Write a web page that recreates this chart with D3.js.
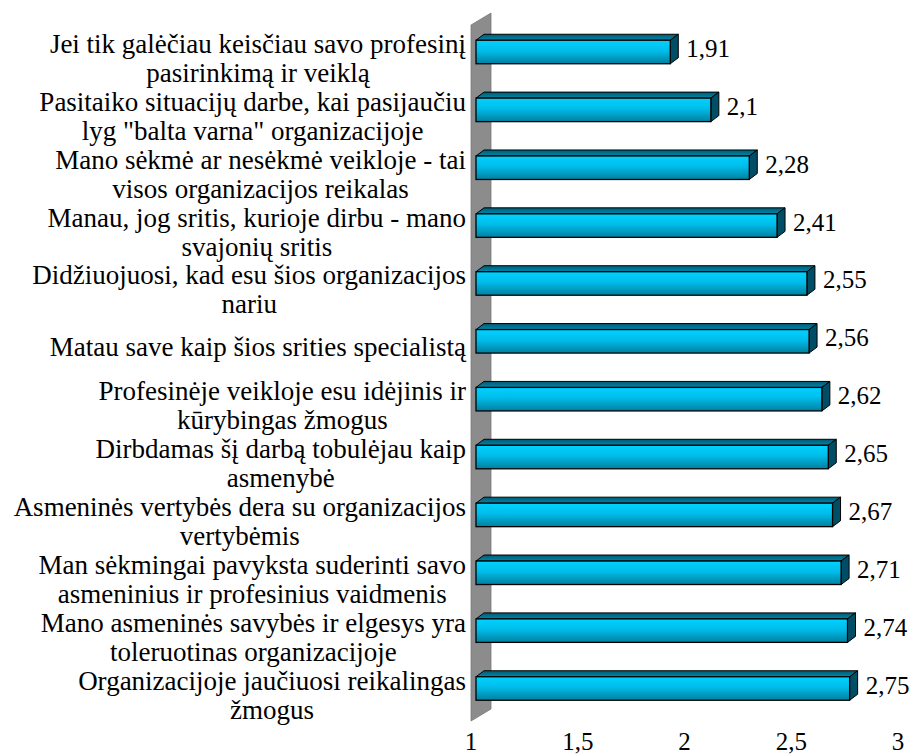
<!DOCTYPE html>
<html>
<head>
<meta charset="utf-8">
<script src="https://cdn.jsdelivr.net/npm/d3@7"></script>
<style>
  body { margin: 0; background: #fff; }
  svg text { font-family: 'Liberation Serif', 'Times New Roman', 'DejaVu Serif', serif; fill: #000; }
</style>
</head>
<body>
<div id="chart"></div>
<script>
// categories, top to bottom, split in lines as shown
var categories = [
    ["Jei tik galėčiau keisčiau savo profesinį", "pasirinkimą ir veiklą"],
    ["Pasitaiko situacijų darbe, kai pasijaučiu", "lyg \"balta varna\" organizacijoje"],
    ["Mano sėkmė ar nesėkmė veikloje - tai", "visos organizacijos reikalas"],
    ["Manau, jog sritis, kurioje dirbu - mano", "svajonių sritis"],
    ["Didžiuojuosi, kad esu šios organizacijos", "nariu"],
    ["Matau save kaip šios srities specialistą"],
    ["Profesinėje veikloje esu idėjinis ir", "kūrybingas žmogus"],
    ["Dirbdamas šį darbą tobulėjau kaip", "asmenybė"],
    ["Asmeninės vertybės dera su organizacijos", "vertybėmis"],
    ["Man sėkmingai pavyksta suderinti savo", "asmeninius ir profesinius vaidmenis"],
    ["Mano asmeninės savybės ir elgesys yra", "toleruotinas organizacijoje"],
    ["Organizacijoje jaučiuosi reikalingas", "žmogus"]
];
var values = [1.91, 2.1, 2.28, 2.41, 2.55, 2.56, 2.62, 2.65, 2.67, 2.71, 2.74, 2.75];
var valueLabels = ["1,91", "2,1", "2,28", "2,41", "2,55", "2,56", "2,62", "2,65", "2,67", "2,71", "2,74", "2,75"];
var tickValues = [1, 1.5, 2, 2.5, 3];
var tickLabels = ["1", "1,5", "2", "2,5", "3"];

var width = 917, height = 756;
var dx = 8, dy = -6, barH = 23.5;
var serif = "'Liberation Serif', 'Times New Roman', 'DejaVu Serif', serif";

var svg = d3.select("#chart")
    .append("svg")
        .attr("width", width)
        .attr("height", height);

var defs = svg.append("defs");
var grad = defs.append("linearGradient")
    .attr("id", "front")
    .attr("x1", 0).attr("y1", 0).attr("x2", 0).attr("y2", 1);
grad.append("stop").attr("offset", "0%").attr("stop-color", "#00d2ff");
grad.append("stop").attr("offset", "45%").attr("stop-color", "#00bcea");
grad.append("stop").attr("offset", "100%").attr("stop-color", "#00809f");

var gradTop = defs.append("linearGradient")
    .attr("id", "topface")
    .attr("x1", 0).attr("y1", 0).attr("x2", 0).attr("y2", 1);
gradTop.append("stop").attr("offset", "0%").attr("stop-color", "#005a74");
gradTop.append("stop").attr("offset", "100%").attr("stop-color", "#0088aa");

var x = d3.scaleLinear()
    .domain([1, 3])
    .range([476, 903]);

var y = d3.scalePoint()
    .domain(d3.range(categories.length))
    .range([52, 688.5]);

// side wall
svg.append("polygon")
    .attr("points", [[471, 25], [491, 13], [491, 709], [471, 721]].map(function(p) { return p.join(","); }).join(" "))
    .attr("fill", "#8c8c8c")
    .attr("stroke", "#7a7a7a")
    .attr("stroke-width", 0.8);

// bars
var bars = svg.append("g")
    .selectAll("g")
    .data(values)
    .enter()
    .append("g");

bars.append("polygon")
    .attr("points", function(d, i) {
        var t = y(i) - barH / 2, x0 = x(1), x1 = x(d);
        return [[x0, t], [x0 + dx, t + dy], [x1 + dx, t + dy], [x1, t]].join(" ");
    })
    .attr("fill", "url(#topface)")
    .attr("stroke", "#000")
    .attr("stroke-width", 1)
    .attr("stroke-linejoin", "round");

bars.append("polygon")
    .attr("points", function(d, i) {
        var t = y(i) - barH / 2, b = y(i) + barH / 2, x1 = x(d);
        return [[x1, t], [x1 + dx, t + dy], [x1 + dx, b + dy], [x1, b]].join(" ");
    })
    .attr("fill", "#004e66")
    .attr("stroke", "#000")
    .attr("stroke-width", 1)
    .attr("stroke-linejoin", "round");

bars.append("rect")
    .attr("x", x(1))
    .attr("y", function(d, i) { return y(i) - barH / 2; })
    .attr("width", function(d) { return x(d) - x(1); })
    .attr("height", barH)
    .attr("fill", "url(#front)")
    .attr("stroke", "#000")
    .attr("stroke-width", 1.3);

// value labels
svg.append("g")
    .selectAll("text")
    .data(values)
    .enter()
    .append("text")
        .attr("x", function(d) { return x(d) + dx + 8; })
        .attr("y", function(d, i) { return y(i) + 5; })
        .attr("font-family", serif)
        .style("font-size", "25px")
        .text(function(d, i) { return valueLabels[i]; });

// category labels, lines centred, block right-aligned
var labelRight = 466, lineGap = 29;
categories.forEach(function(lines, i) {
    var g = svg.append("g");
    var texts = lines.map(function(line, j) {
        var base = lines.length === 1 ? y(i) + 15 : y(i) + 1 + j * lineGap;
        return g.append("text")
            .attr("y", base)
            .attr("font-family", serif)
            .style("font-size", "27px")
            .attr("text-anchor", "middle")
            .text(line);
    });
    var w = d3.max(texts, function(t) { return t.node().getComputedTextLength(); });
    texts.forEach(function(t) { t.attr("x", labelRight - w / 2); });
});

// x axis tick labels
svg.append("g")
    .selectAll("text")
    .data(tickValues)
    .enter()
    .append("text")
        .attr("x", function(d) { return x(d) - 5; })
        .attr("y", 750)
        .attr("text-anchor", "middle")
        .attr("font-family", serif)
        .style("font-size", "25px")
        .text(function(d, i) { return tickLabels[i]; });
</script>
</body>
</html>
